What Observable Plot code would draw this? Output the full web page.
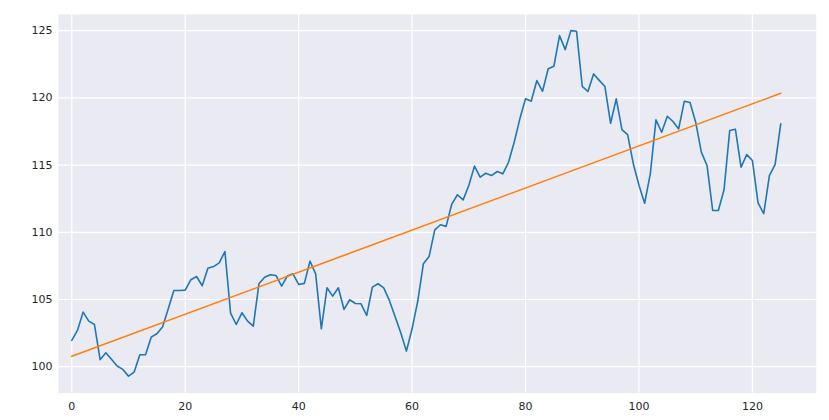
<!DOCTYPE html>
<html>
<head>
<meta charset="utf-8">
<script src="https://cdn.jsdelivr.net/npm/d3@7"></script>
<script src="https://cdn.jsdelivr.net/npm/@observablehq/plot@0.6"></script>
<style>
  html, body { margin: 0; padding: 0; background: #ffffff; }
  #chart { width: 829px; height: 420px; }
</style>
</head>
<body>
<div id="chart"></div>
<script>
const values = [
  101.96, 102.7, 104.06, 103.39, 103.14, 100.52, 101.04, 100.55, 100.05, 99.8,
  99.3, 99.6, 100.89, 100.89, 102.2, 102.45, 102.95, 104.3, 105.67, 105.67,
  105.7, 106.47, 106.71, 106.02, 107.33, 107.45, 107.73, 108.57, 103.99, 103.14,
  104.01, 103.39, 103.02, 106.17, 106.66, 106.84, 106.79, 105.99, 106.74, 106.91,
  106.12, 106.2, 107.85, 106.91, 102.82, 105.87, 105.25, 105.87, 104.26, 104.98,
  104.7, 104.68, 103.81, 105.92, 106.17, 105.87, 104.93, 103.74, 102.53, 101.16,
  102.82, 104.88, 107.66, 108.2, 110.18, 110.56, 110.44, 112.1, 112.79, 112.41,
  113.48, 114.92, 114.1, 114.39, 114.22, 114.52, 114.35, 115.21, 116.7, 118.44,
  119.93, 119.75, 121.29, 120.49, 122.16, 122.35, 124.63, 123.59, 125.0, 124.95,
  120.86, 120.47, 121.78, 121.3, 120.84, 118.11, 119.93, 117.64, 117.27, 115.1,
  113.5, 112.16, 114.35, 118.36, 117.44, 118.63, 118.24, 117.69, 119.75, 119.65,
  118.19, 115.96, 114.97, 111.62, 111.62, 113.16, 117.57, 117.67, 114.84, 115.78,
  115.34, 112.19, 111.38, 114.22, 115.04, 118.07
];
const trendX = [0, 125];
const trendY = [100.77, 120.34];
const xTicks = [0, 20, 40, 60, 80, 100, 120];
const yTicks = [100, 105, 110, 115, 120, 125];

const series = values.map((v, i) => ({x: i, y: v}));
const trend = trendX.map((x, i) => ({x, y: trendY[i]}));

const chart = Plot.plot({
  width: 829,
  height: 420,
  marginLeft: 58,
  marginRight: 13.3,
  marginTop: 14,
  marginBottom: 27.3,
  style: {fontFamily: "DejaVu Sans", fontSize: "11px", color: "#262626", background: "#ffffff"},
  x: {domain: [-2.34, 131.25], ticks: xTicks, tickSize: 0, tickPadding: 9, label: null},
  y: {domain: [98.03, 126.2], ticks: yTicks, tickSize: 0, tickPadding: 6, label: null},
  marks: [
    Plot.frame({fill: "#EAEAF2", stroke: null}),
    Plot.gridX(xTicks, {stroke: "#ffffff", strokeOpacity: 1, strokeWidth: 1.2}),
    Plot.gridY(yTicks, {stroke: "#ffffff", strokeOpacity: 1, strokeWidth: 1.2}),
    Plot.axisX(xTicks, {tickSize: 0, tickPadding: 9, label: null}),
    Plot.axisY(yTicks, {tickSize: 0, tickPadding: 6, label: null}),
    Plot.line(series, {x: "x", y: "y", stroke: "#1f77b4", strokeWidth: 1.6}),
    Plot.line(trend, {x: "x", y: "y", stroke: "#ff7f0e", strokeWidth: 1.6})
  ]
});
document.getElementById("chart").appendChild(chart);
</script>
</body>
</html>
